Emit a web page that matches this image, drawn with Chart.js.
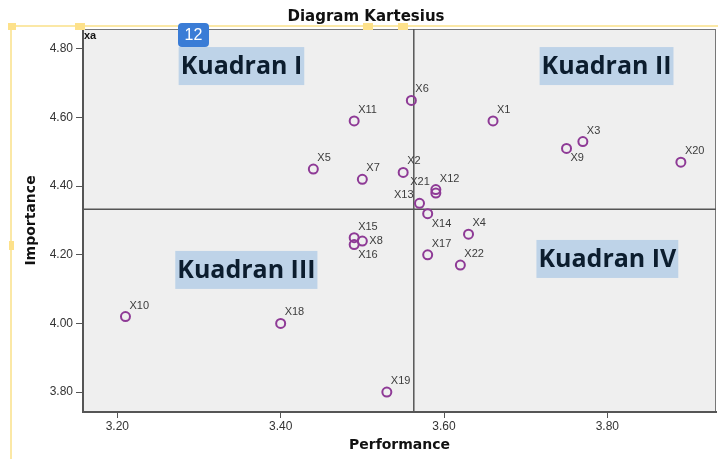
<!DOCTYPE html>
<html lang="id">
<head>
  <meta charset="UTF-8">
  <title>Diagram Kartesius</title>
  <style>
    body {
      margin: 0;
      background: #ffffff;
    }

    #chart {
      display: block;
    }
  </style>
</head>
<body>
  <canvas id="chart" width="718" height="459"></canvas>

  <script src="https://cdn.jsdelivr.net/npm/chart.js"></script>
  <script>
    // data
    const labels = ['X1', 'X2', 'X3', 'X4', 'X5', 'X6', 'X7', 'X8', 'X9', 'X10', 'X11',
      'X12', 'X13', 'X14', 'X15', 'X16', 'X17', 'X18', 'X19', 'X20', 'X21', 'X22'];
    const performance = [3.66, 3.55, 3.77, 3.63, 3.44, 3.56, 3.50, 3.50, 3.75, 3.21, 3.49,
      3.59, 3.57, 3.58, 3.49, 3.49, 3.58, 3.40, 3.53, 3.89, 3.59, 3.62];
    const importance = [4.59, 4.44, 4.53, 4.26, 4.45, 4.65, 4.42, 4.24, 4.51, 4.02, 4.59,
      4.39, 4.35, 4.32, 4.25, 4.23, 4.20, 4.00, 3.80, 4.47, 4.38, 4.17];
    const xTicks = [3.2, 3.4, 3.6, 3.8];
    const yTicks = [3.8, 4.0, 4.2, 4.4, 4.6, 4.8];
    const xRange = [3.158, 3.933];
    const yRange = [3.742, 4.858];
    const refPerformance = 3.563;
    const refImportance = 4.333;
    const quadrants = ['Kuadran I', 'Kuadran II', 'Kuadran III', 'Kuadran IV'];

    // where each quadrant box sits (data units) and which points get their label moved
    const quadrantAt = [[3.352, 4.75], [3.799, 4.75], [3.358, 4.156], [3.800, 4.188]];
    const labelSide = { X21: 'aboveLeft', X13: 'left', X14: 'below', X16: 'below', X9: 'below', X8: 'right' };

    const points = labels.map((l, i) => ({ x: performance[i], y: importance[i] }));

    const plotBackground = {
      id: 'plotBackground',
      beforeDraw(chart) {
        const { ctx, chartArea: a } = chart;
        ctx.save();
        ctx.fillStyle = '#efefef';
        ctx.fillRect(a.left, a.top, a.right - a.left, a.bottom - a.top);
        ctx.strokeStyle = '#777';
        ctx.lineWidth = 1;
        ctx.strokeRect(a.left + 0.5, a.top + 0.5, a.right - a.left - 1, a.bottom - a.top - 1);
        ctx.restore();
      }
    };

    const quadrantBoxes = {
      id: 'quadrantBoxes',
      beforeDatasetsDraw(chart) {
        const { ctx, scales: { x, y } } = chart;
        ctx.save();
        ctx.font = 'bold 25px "Open Sans", sans-serif';
        ctx.textAlign = 'center';
        ctx.textBaseline = 'middle';
        quadrants.forEach((q, i) => {
          const cx = x.getPixelForValue(quadrantAt[i][0]);
          const cy = y.getPixelForValue(quadrantAt[i][1]);
          const w = ctx.measureText(q).width + 4;
          ctx.fillStyle = '#bed3e8';
          ctx.fillRect(cx - w / 2, cy - 19, w, 38);
          ctx.fillStyle = '#0c1d2e';
          ctx.fillText(q, cx, cy + 1);
        });
        ctx.restore();
      }
    };

    const pointLabels = {
      id: 'pointLabels',
      afterDatasetsDraw(chart) {
        const { ctx } = chart;
        const meta = chart.getDatasetMeta(0);
        ctx.save();
        ctx.font = '11px Arial, "Liberation Sans", sans-serif';
        ctx.fillStyle = '#3c3c3c';
        ctx.textBaseline = 'middle';
        meta.data.forEach((el, i) => {
          const side = labelSide[labels[i]];
          let dx = 4, dy = -11;
          ctx.textAlign = 'left';
          if (side === 'aboveLeft') { ctx.textAlign = 'right'; dx = -6; dy = -11; }
          if (side === 'left') { ctx.textAlign = 'right'; dx = -6; dy = -8; }
          if (side === 'below') { dx = 4; dy = 10; }
          if (side === 'right') { dx = 7; dy = 0; }
          ctx.fillText(labels[i], el.x + dx, el.y + dy);
        });
        ctx.restore();
      }
    };

    // the editor frame, handles, badge and corner tag seen in the screenshot
    const screenMarks = {
      id: 'screenMarks',
      afterDraw(chart) {
        const { ctx } = chart;
        ctx.save();
        ctx.strokeStyle = '#fbe8a6';
        ctx.lineWidth = 2;
        ctx.beginPath();
        ctx.moveTo(10, 26);
        ctx.lineTo(718, 26);
        ctx.moveTo(11, 26);
        ctx.lineTo(11, 459);
        ctx.stroke();
        ctx.fillStyle = '#fde18a';
        [[8, 23, 8, 7], [75, 23, 10, 7], [363, 23, 10, 7], [398, 23, 10, 7], [9, 241, 5, 9]].forEach(r => {
          ctx.fillRect(r[0], r[1], r[2], r[3]);
        });

        ctx.fillStyle = '#3a7cd6';
        ctx.beginPath();
        ctx.roundRect(178, 23, 31, 24, 4);
        ctx.fill();
        ctx.fillStyle = '#ffffff';
        ctx.font = '16px Arial, "Liberation Sans", sans-serif';
        ctx.textAlign = 'center';
        ctx.textBaseline = 'middle';
        ctx.fillText('12', 193.5, 36);

        ctx.fillStyle = '#111';
        ctx.font = 'bold 11px Arial, "Liberation Sans", sans-serif';
        ctx.textAlign = 'left';
        ctx.fillText('xa', 84, 36);
        ctx.restore();
      }
    };

    const tickFont = { family: 'Arial, "Liberation Sans", sans-serif', size: 12 };
    const titleFont = { family: '"DejaVu Sans", sans-serif', size: 14, weight: 'bold' };

    new Chart(document.getElementById('chart'), {
      type: 'scatter',
      data: {
        datasets: [
          {
            label: 'Atribut',
            data: points,
            pointStyle: 'circle',
            pointRadius: 4.5,
            pointBorderWidth: 2,
            pointBorderColor: '#8e3a96',
            pointBackgroundColor: 'rgba(0,0,0,0)'
          },
          {
            label: 'Rata-rata Performance',
            type: 'line',
            data: [{ x: refPerformance, y: yRange[0] }, { x: refPerformance, y: yRange[1] }],
            borderColor: '#555',
            borderWidth: 1.5,
            pointRadius: 0
          },
          {
            label: 'Rata-rata Importance',
            type: 'line',
            data: [{ x: xRange[0], y: refImportance }, { x: xRange[1], y: refImportance }],
            borderColor: '#555',
            borderWidth: 1.5,
            pointRadius: 0
          }
        ]
      },
      options: {
        responsive: false,
        animation: false,
        layout: { autoPadding: false, padding: { left: 16, right: 2, top: 0, bottom: 0 } },
        plugins: {
          legend: { display: false },
          tooltip: { enabled: false },
          title: {
            display: true,
            text: 'Diagram Kartesius',
            color: '#111',
            font: { family: '"DejaVu Sans", sans-serif', size: 15, weight: 'bold' },
            padding: { top: 8, bottom: 3 }
          }
        },
        scales: {
          x: {
            type: 'linear',
            min: xRange[0],
            max: xRange[1],
            afterBuildTicks: (scale) => { scale.ticks = xTicks.map(v => ({ value: v })); },
            afterFit: (scale) => {
              scale.height = 47;
              scale.paddingLeft = 0;
              scale.paddingRight = 0;
            },
            ticks: {
              color: '#333',
              font: tickFont,
              padding: 1,
              maxRotation: 0,
              callback: (v) => Number(v).toFixed(2)
            },
            grid: { drawOnChartArea: false, drawTicks: true, tickLength: 6, color: '#555' },
            border: { display: true, color: '#555', width: 2 },
            title: {
              display: true,
              text: 'Performance',
              color: '#111',
              font: titleFont,
              padding: { top: 0, bottom: 5 }
            }
          },
          y: {
            type: 'linear',
            min: yRange[0],
            max: yRange[1],
            afterBuildTicks: (scale) => { scale.ticks = yTicks.map(v => ({ value: v })); },
            afterFit: (scale) => { scale.width = 67; },
            ticks: {
              color: '#333',
              font: tickFont,
              padding: 3,
              callback: (v) => Number(v).toFixed(2)
            },
            grid: { drawOnChartArea: false, drawTicks: true, tickLength: 7, color: '#555' },
            border: { display: true, color: '#555', width: 2 },
            title: {
              display: true,
              text: 'Importance',
              color: '#111',
              font: titleFont,
              padding: { top: 7, bottom: 0 }
            }
          }
        }
      },
      plugins: [plotBackground, quadrantBoxes, pointLabels, screenMarks]
    });
  </script>
</body>
</html>
